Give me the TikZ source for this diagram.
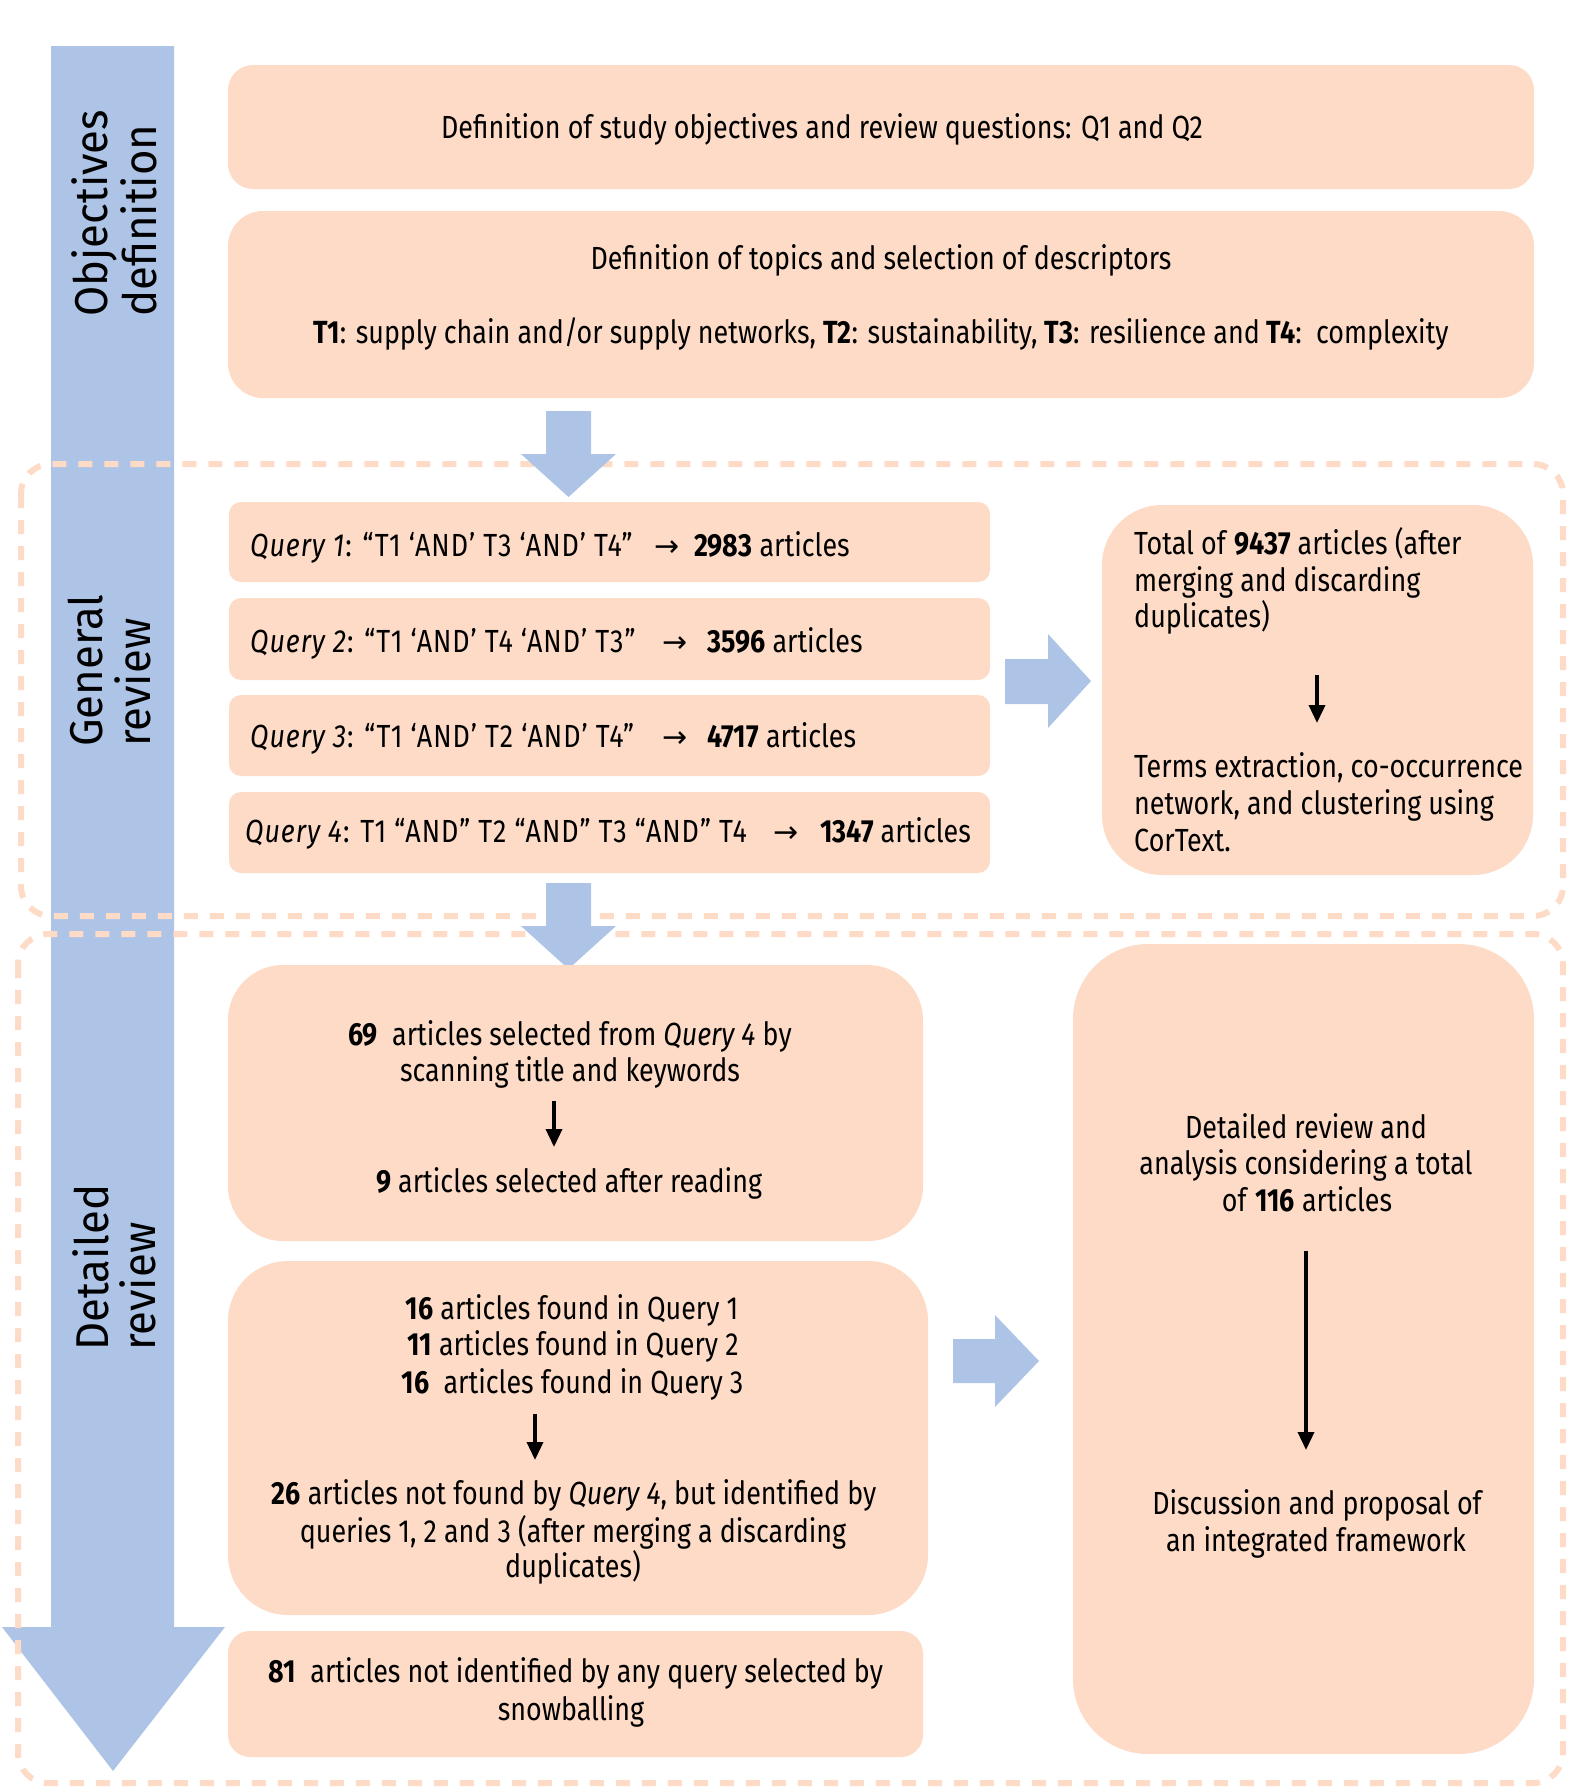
\documentclass[tikz,border=0pt]{standalone}
\usepackage{fontspec}
\setmainfont[FakeStretch=0.84]{Fira Sans}
\newfontfamily\sidefont[FakeStretch=0.95]{Fira Sans}
\newfontfamily\arrowfont{DejaVu Sans}
\usetikzlibrary{arrows.meta}

\definecolor{peach}{HTML}{FDDBC6}
\definecolor{paleblue}{HTML}{AEC4E6}

% a filled panel given by its corners and corner radius
\newcommand\panelbox[6]{%
  \node[panel, rounded corners=#6pt,
        minimum width={(#4-#2)*1pt}, minimum height={(#5-#3)*1pt}]
        (#1) at ({(#2+#4)/2},{(#3+#5)/2}) {};}

\tikzset{
  panel/.style={fill=peach, inner sep=0pt, outer sep=0pt},
  stage/.style={draw=peach, line width=6pt, dash pattern=on 14pt off 12pt, rounded corners=30pt},
  blockarrow/.style={fill=paleblue},
  txt/.style={inner sep=0pt, anchor=base, font=\fontsize{32}{37}\selectfont, text=black},
  ltxt/.style={txt, anchor=base west},
  qtxt/.style={ltxt, font=\addfontfeatures{LetterSpace=3}\fontsize{32}{37}\selectfont},
  arrtxt/.style={inner sep=0pt, anchor=base west, font=\arrowfont\fontsize{30}{37}\selectfont},
  flow/.style={line width=3.5pt, -{Triangle[length=18pt,width=16pt]}},
  sidelabel/.style={inner sep=0pt, rotate=90, anchor=base west,
                    font=\sidefont\fontsize{46}{49}\selectfont},
}

\begin{document}
\begin{tikzpicture}[x=1pt, y=-1pt]
\useasboundingbox (0,0) rectangle (1577,1788);

% phase bar running down the left side
\fill[blockarrow] (51,46) -- (174,46) -- (174,1627) -- (225,1627)
  -- (113,1771) -- (2,1627) -- (51,1627) -- cycle;

% dashed frames of the two review stages
\draw[stage] (21,464) rectangle (1563,916);
\draw[stage] (18,934) rectangle (1563,1783);

% block arrows between the stages
\fill[blockarrow] (546,411) -- ++(45,0) -- ++(0,43) -- ++(25,0) -- ++(-47.5,43)
  -- ++(-47.5,-43) -- ++(25,0) -- cycle;
\fill[blockarrow] (546,883) -- ++(45,0) -- ++(0,43) -- ++(25,0) -- ++(-47.5,43)
  -- ++(-47.5,-43) -- ++(25,0) -- cycle;
\fill[blockarrow] (1005,659) -- ++(43,0) -- ++(0,-25) -- ++(43,47) -- ++(-43,47)
  -- ++(0,-24) -- ++(-43,0) -- cycle;
\fill[blockarrow] (953,1339) -- ++(42,0) -- ++(0,-24) -- ++(44,46) -- ++(-44,46)
  -- ++(0,-24) -- ++(-42,0) -- cycle;

% phase labels
\node[sidelabel] (objA) at (107,317) {Objectives};
\node[sidelabel] (objB) at (156,317) {definition};
\node[sidelabel] (genA) at (102,747) {General};
\node[sidelabel] (genB) at (150,747) {review};
\node[sidelabel] (detA) at (108,1351) {Detailed};
\node[sidelabel] (detB) at (155,1351) {review};

% objectives definition
\panelbox{objbox}{228}{65}{1534}{189}{25}
\node[txt] (objtxt) at (822,138) {Definition of study objectives and review questions: Q1 and Q2};
\panelbox{topicbox}{228}{211}{1534}{398}{35}
\node[txt] (topictxt) at (881,269) {Definition of topics and selection of descriptors};
\node[txt] (termtxt) at (881,343) {\textbf{T1}: supply chain and/or supply networks, \textbf{T2}: sustainability, \textbf{T3}: resilience and \textbf{T4}:\ \ complexity};

% general review: queries
\panelbox{q1}{229}{502}{990}{582}{12}
\panelbox{q2}{229}{598}{990}{680}{12}
\panelbox{q3}{229}{695}{990}{776}{12}
\panelbox{q4}{229}{792}{990}{873}{12}
\node[qtxt] (q1t) at (250,556) {\textit{Query 1}: “T1 ‘AND’ T3 ‘AND’ T4”};
\node[arrtxt] (q1a) at (654,556) {→};
\node[ltxt] (q1n) at (694,556) {\textbf{2983} articles};
\node[qtxt] (q2t) at (250,652) {\textit{Query 2}: “T1 ‘AND’ T4 ‘AND’ T3”};
\node[arrtxt] (q2a) at (662,652) {→};
\node[ltxt] (q2n) at (707,652) {\textbf{3596} articles};
\node[qtxt] (q3t) at (250,747) {\textit{Query 3}: “T1 ‘AND’ T2 ‘AND’ T4”};
\node[arrtxt] (q3a) at (662,747) {→};
\node[ltxt] (q3n) at (707,747) {\textbf{4717} articles};
\node[qtxt] (q4t) at (245,842) {\textit{Query 4}: T1 “AND” T2 “AND” T3 “AND” T4};
\node[arrtxt] (q4a) at (773,842) {→};
\node[ltxt] (q4n) at (820,842) {\textbf{1347} articles};

% general review: merged corpus
\panelbox{corpus}{1102}{505}{1533}{875}{60}
\node[ltxt] (c1) at (1134,554) {Total of \textbf{9437} articles (after};
\node[ltxt] (c2) at (1134,591) {merging and discarding};
\node[ltxt] (c3) at (1134,627) {duplicates)};
\node[ltxt] (c4) at (1134,777) {Terms extraction, co-occurrence};
\node[ltxt] (c5) at (1134,814) {network, and clustering using};
\node[ltxt] (c6) at (1134,851) {CorText.};
\coordinate (cs) at (1317,675);
\coordinate (ce) at (1317,723);
\draw[flow] (cs) -- (ce);

% detailed review: selection from query 4
\panelbox{selbox}{228}{965}{923}{1241}{55}
\node[txt] (s1) at (570,1045) {\textbf{69}\ \ articles selected from \textit{Query 4} by};
\node[txt] (s2) at (570,1081) {scanning title and keywords};
\node[txt] (s3) at (569,1192) {\textbf{9} articles selected after reading};
\coordinate (ss) at (554,1101);
\coordinate (se) at (554,1147);
\draw[flow] (ss) -- (se);

% detailed review: queries 1 to 3
\panelbox{otherbox}{228}{1261}{928}{1615}{60}
\node[txt] (o1) at (572,1319) {\textbf{16} articles found in Query 1};
\node[txt] (o2) at (573,1355) {\textbf{11} articles found in Query 2};
\node[txt] (o3) at (572.5,1393) {\textbf{16}\ \ articles found in Query 3};
\node[txt] (o4) at (574,1504) {\textbf{26} articles not found by \textit{Query 4}, but identified by};
\node[txt] (o5) at (573,1542) {queries 1, 2 and 3 (after merging a discarding};
\node[txt] (o6) at (573,1577) {duplicates)};
\coordinate (os) at (535,1414);
\coordinate (oe) at (535,1460);
\draw[flow] (os) -- (oe);

% detailed review: snowballing
\panelbox{snowbox}{228}{1631}{923}{1757}{22}
\node[txt] (w1) at (576,1682) {\textbf{81}\ \ articles not identified by any query selected by};
\node[txt] (w2) at (571,1720) {snowballing};

% detailed review: analysis
\panelbox{analysis}{1073}{944}{1534}{1754}{75}
\node[txt] (a1) at (1306,1138) {Detailed review and};
\node[txt] (a2) at (1306,1174) {analysis considering a total};
\node[txt] (a3) at (1307,1211) {of \textbf{116} articles};
\node[txt] (a4) at (1317,1514) {Discussion and proposal of};
\node[txt] (a5) at (1316,1551) {an integrated framework};
\coordinate (as) at (1306,1251);
\coordinate (ae) at (1306,1450);
\draw[flow] (as) -- (ae);
\end{tikzpicture}
\end{document}
